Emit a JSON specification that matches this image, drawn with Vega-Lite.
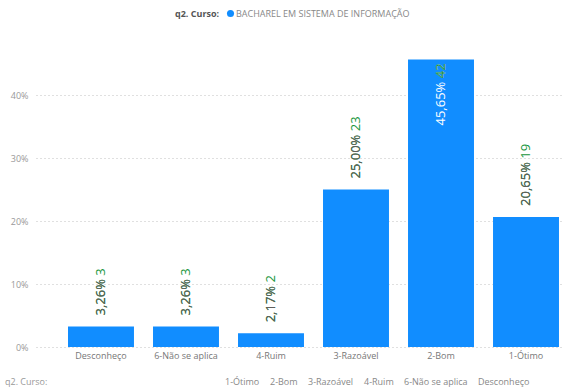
{
  "$schema": "https://vega.github.io/schema/vega-lite/v6.json",
  "width": 526,
  "height": 315,
  "autosize": "none",
  "padding": {"left": 36, "top": 32, "right": 0, "bottom": 43},
  "background": "white",
  "config": {
    "locale": {"number": {"decimal": ",", "thousands": ".", "grouping": [3], "currency": ["R$", ""]}},
    "view": {"stroke": null},
    "font": "Open Sans"
  },
  "data": {
    "values": [
      {"cat": "Desconheço", "pct": 0.0326, "n": 3, "curso": "BACHAREL EM SISTEMA DE INFORMAÇÃO"},
      {"cat": "6-Não se aplica", "pct": 0.0326, "n": 3, "curso": "BACHAREL EM SISTEMA DE INFORMAÇÃO"},
      {"cat": "4-Ruim", "pct": 0.0217, "n": 2, "curso": "BACHAREL EM SISTEMA DE INFORMAÇÃO"},
      {"cat": "3-Razoável", "pct": 0.25, "n": 23, "curso": "BACHAREL EM SISTEMA DE INFORMAÇÃO"},
      {"cat": "2-Bom", "pct": 0.4565, "n": 42, "curso": "BACHAREL EM SISTEMA DE INFORMAÇÃO"},
      {"cat": "1-Ótimo", "pct": 0.2065, "n": 19, "curso": "BACHAREL EM SISTEMA DE INFORMAÇÃO"}
    ]
  },
  "transform": [
    {"calculate": "format(datum.pct, '.2%') + ' ' + datum.n", "as": "lbl"},
    {"calculate": "format(datum.pct, '.2%')", "as": "pl"},
    {"calculate": "'' + datum.n", "as": "nl"}
  ],
  "encoding": {
    "x": {
      "field": "cat",
      "type": "nominal",
      "sort": ["Desconheço", "6-Não se aplica", "4-Ruim", "3-Razoável", "2-Bom", "1-Ótimo"],
      "scale": {"paddingInner": 0.224, "paddingOuter": 0.206, "align": 0.914},
      "axis": {"title": null, "domain": false, "ticks": false, "labelAngle": 0, "labelColor": "#777777", "labelFontSize": 9, "labelPadding": 4}
    },
    "y": {
      "field": "pct",
      "type": "quantitative",
      "scale": {"domain": [0, 0.5]},
      "axis": {"title": null, "format": ".0%", "values": [0, 0.1, 0.2, 0.3, 0.4], "grid": true, "gridDash": [1, 3], "gridColor": "#c0c0c0", "domain": false, "ticks": false, "labelColor": "#999999", "labelFontSize": 9, "labelPadding": 8}
    }
  },
  "layer": [
    {
      "mark": {"type": "bar"},
      "encoding": {
        "color": {
          "field": "curso",
          "type": "nominal",
          "scale": {"range": ["#118DFF"]},
          "legend": {"title": "q2. Curso:", "orient": "none", "legendX": 139, "legendY": -23, "direction": "horizontal", "titleOrient": "left", "titleFontSize": 9, "titleFontWeight": "bold", "titleColor": "#555555", "titlePadding": 6, "labelFontSize": 9, "labelColor": "#888888", "labelLimit": 0, "symbolType": "circle", "symbolSize": 50, "labelOffset": 1}
        }
      }
    },
    {
      "mark": {"type": "point", "opacity": 0},
      "encoding": {
        "shape": {
          "field": "cat",
          "type": "nominal",
          "legend": {"title": "q2. Curso:", "orient": "none", "legendX": -31, "legendY": 345, "direction": "horizontal", "titleOrient": "left", "titlePadding": 168, "titleFontSize": 9, "titleFontWeight": "normal", "titleColor": "#999999", "labelFontSize": 9, "labelColor": "#888888", "symbolSize": 0, "symbolOpacity": 0, "symbolStrokeWidth": 0, "labelOffset": 0, "columnPadding": 1}
        }
      }
    },
    {
      "transform": [{"filter": "datum.pct < 0.4"}],
      "mark": {"type": "text", "angle": 270, "align": "left", "baseline": "middle", "dx": 11, "fontSize": 13, "color": "#17963B"},
      "encoding": {"text": {"field": "lbl", "type": "nominal"}}
    },
    {
      "transform": [{"filter": "datum.pct < 0.4"}],
      "mark": {"type": "text", "angle": 270, "align": "left", "baseline": "middle", "dx": 11, "fontSize": 13, "color": "#605E5C"},
      "encoding": {"text": {"field": "pl", "type": "nominal"}}
    },
    {
      "transform": [{"filter": "datum.pct >= 0.4"}],
      "mark": {"type": "text", "angle": 270, "align": "right", "baseline": "middle", "dx": -4, "fontSize": 13, "color": "#FFFFFF"},
      "encoding": {"text": {"field": "lbl", "type": "nominal"}}
    },
    {
      "transform": [{"filter": "datum.pct >= 0.4"}],
      "mark": {"type": "text", "angle": 270, "align": "right", "baseline": "middle", "dx": -4, "fontSize": 13, "color": "#0E8A35"},
      "encoding": {"text": {"field": "nl", "type": "nominal"}}
    }
  ]
}
